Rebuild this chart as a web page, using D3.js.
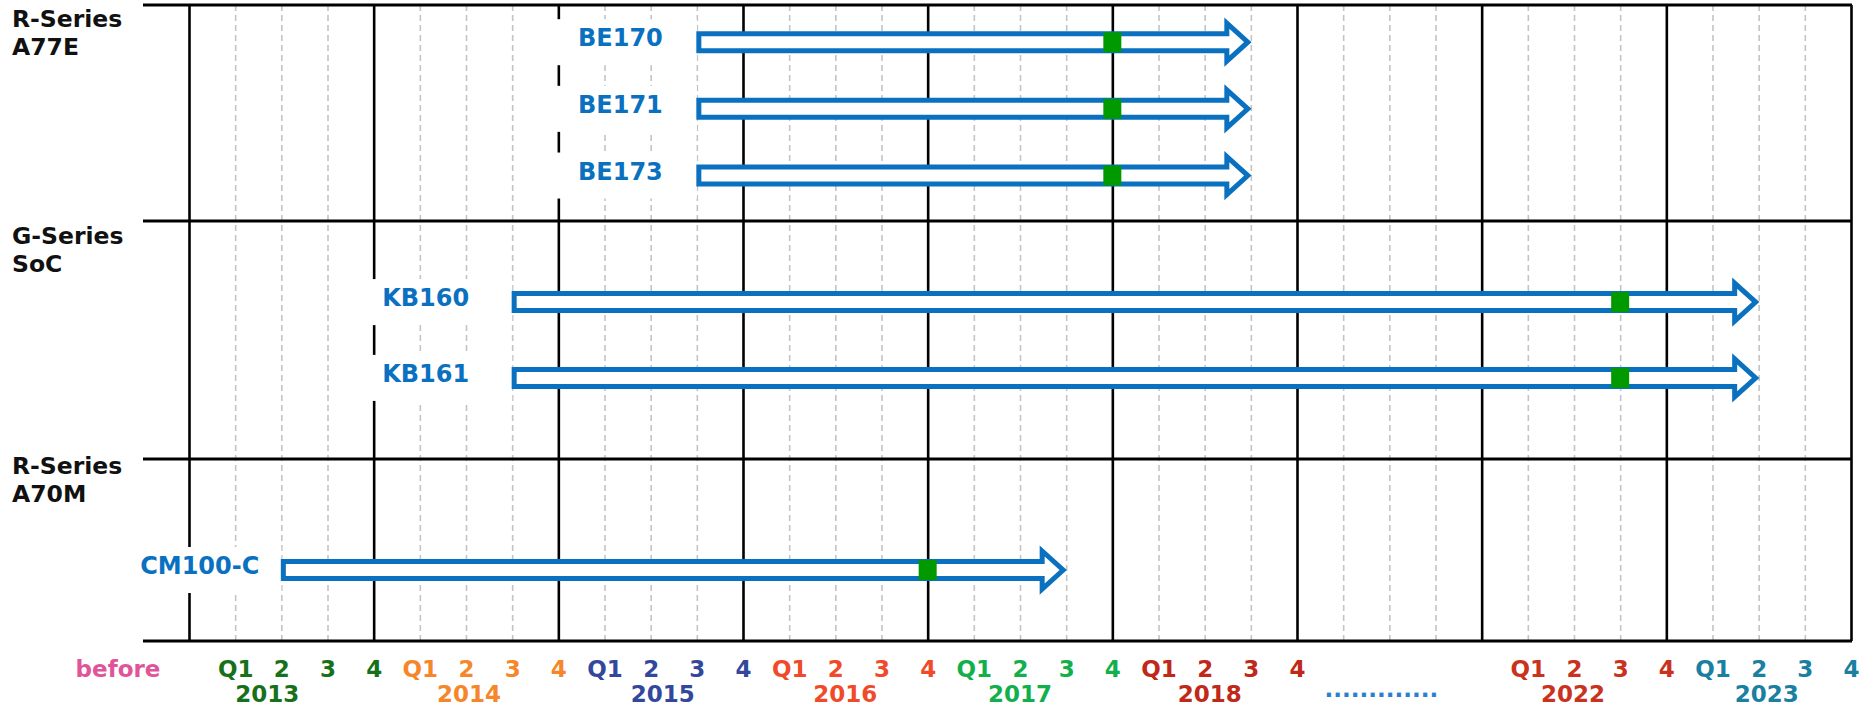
<!DOCTYPE html>
<html><head><meta charset="utf-8">
<script src="https://cdn.jsdelivr.net/npm/d3@7"></script>
<style>
body{margin:0;background:#fff;}
svg{display:block;font-family:"DejaVu Sans",sans-serif;font-weight:700;}
</style>
</head><body>
<svg id="chart" width="1861" height="708"></svg>
<script>
// ---------------- DATA ----------------
const columns = ["2013","2014","2015","2016","2017","2018","gap","2022","2023"];
const columnColors = ["#17701a","#f5872a","#33489c","#f04a2a","#12b04c","#c0281a","#2a7fd0","#c8321e","#1a7fa0"];
const quarterLabels = ["Q1","2","3","4"];
const beforeLabel = "before";
const gapLabel = ".............";
const groupNames = [["R-Series","A77E"],["G-Series","SoC"],["R-Series","A70M"]];
const products = ["BE170","BE171","BE173","KB160","KB161","CM100-C"];
const productGroup = [0,0,0,1,1,2];
const startYear = ["2015","2015","2015","2014","2014","2013"];
const startQuarter = [3,3,3,3,3,2];
const endYear = ["2018","2018","2018","2023","2023","2017"];
const endQuarter = [3,3,3,2,2,3];
const mileYear = ["2017","2017","2017","2022","2022","2016"];
const mileQuarter = [4,4,4,3,3,4];

// ---------------- LAYOUT / STYLE ----------------
const gridLeft = 189, gridRight = 1851, lineLeft = 143;
const sectionEdges = [5, 221, 459, 641];
const groupPadding = [0.62, 1.07, 1];
const groupAlign = [0.45, 0.5, 0.61];
const groupLabelBase = [27, 244, 474];
const labelGap = [34, 34, 34, 43, 43, 22];
const boxLeftPad = [40, 40, 40, 30, 30, 30];
const yearShift = [-14, 3, 12, 10, 0, 5, -8, -1, 8];
const blue = "#0a70c0";
const green = "#009a00";

const svg = d3.select("#chart");
const nQ = columns.length * 4;
const x = d3.scaleLinear().domain([0, nQ]).range([gridLeft, gridRight]);
const qIndex = (yr, q) => columns.indexOf(yr) * 4 + q;

const yGroup = groupNames.map((g, gi) => {
  const ids = products.filter((p, i) => productGroup[i] === gi);
  return d3.scalePoint().domain(ids)
    .range([sectionEdges[gi], sectionEdges[gi + 1]])
    .padding(groupPadding[gi]).align(groupAlign[gi]);
});
const yOf = i => yGroup[productGroup[i]](products[i]);

// ---------------- GRID ----------------
const gridH = sectionEdges[3] - sectionEdges[0];
const minorTicks = d3.range(0, nQ + 1).filter(i => i % 4 !== 0);
const majorTicks = d3.range(0, nQ + 1, 4);

const minorAxis = svg.append("g")
  .attr("transform", `translate(0,${sectionEdges[3]})`)
  .call(d3.axisBottom(x).tickValues(minorTicks).tickSize(-gridH).tickFormat(""));
minorAxis.select(".domain").remove();
minorAxis.selectAll("line").attr("stroke", "#c4c4c4").attr("stroke-width", 1.6).attr("stroke-dasharray", "6,4");

const majorAxis = svg.append("g")
  .attr("transform", `translate(0,${sectionEdges[3]})`)
  .call(d3.axisBottom(x).tickValues(majorTicks).tickSize(-gridH).tickFormat(""));
majorAxis.select(".domain").remove();
majorAxis.selectAll("line").attr("stroke", "#000").attr("stroke-width", 2.6);

svg.append("g").selectAll("line").data(sectionEdges).join("line")
  .attr("x1", lineLeft).attr("x2", gridRight + 1)
  .attr("y1", d => d).attr("y2", d => d)
  .attr("stroke", "#000").attr("stroke-width", 2.8);

// ---------------- GROUP LABELS ----------------
groupNames.forEach((lines, gi) => {
  const t = svg.append("text").attr("x", 12).attr("y", groupLabelBase[gi])
    .attr("font-size", 23.5).attr("fill", "#111");
  lines.forEach((l, li) => t.append("tspan").attr("x", 12).attr("dy", li ? 28 : 0).text(l));
});

// ---------------- PRODUCT LABELS (with white boxes) ----------------
const labG = svg.append("g");
products.forEach((p, i) => {
  const y = yOf(i);
  const x0 = x(qIndex(startYear[i], startQuarter[i]));
  const g = labG.append("g");
  const rect = g.append("rect").attr("fill", "#fff");
  const t = g.append("text").attr("x", x0 - labelGap[i]).attr("y", y + 4)
    .attr("text-anchor", "end").attr("font-size", 24).attr("fill", blue).text(p);
  const bb = t.node().getBBox();
  const left = bb.x - boxLeftPad[i];
  rect.attr("x", left).attr("width", x0 - left).attr("y", y - 23).attr("height", 46);
});

// ---------------- ARROWS ----------------
const h = 8.5, HH = 19, headLen = 21;
function arrowPath(x0, xt, y) {
  const p = d3.path();
  const xh = xt - headLen;
  p.moveTo(x0, y - h); p.lineTo(xh, y - h); p.lineTo(xh, y - HH); p.lineTo(xt, y);
  p.lineTo(xh, y + HH); p.lineTo(xh, y + h); p.lineTo(x0, y + h); p.closePath();
  return p.toString();
}
svg.append("g").selectAll("path").data(products).join("path")
  .attr("d", (d, i) => arrowPath(x(qIndex(startYear[i], startQuarter[i])) + 2,
                                 x(qIndex(endYear[i], endQuarter[i])) - 3, yOf(i)))
  .attr("fill", "#fff").attr("stroke", blue).attr("stroke-width", 5)
  .attr("stroke-linejoin", "miter");

svg.append("g").selectAll("rect").data(products).join("rect")
  .attr("x", (d, i) => x(qIndex(mileYear[i], mileQuarter[i])) - 9)
  .attr("y", (d, i) => yOf(i) - 10).attr("width", 18).attr("height", 20)
  .attr("fill", green);

// ---------------- BOTTOM LABELS ----------------
const labelTicks = [];
columns.forEach((c, ci) => {
  if (c === "gap") return;
  quarterLabels.forEach((q, qi) => labelTicks.push(ci * 4 + qi + 1));
});
const qAxis = svg.append("g").attr("transform", "translate(0,677)")
  .call(d3.axisBottom(x).tickValues(labelTicks).tickSize(0).tickPadding(0)
    .tickFormat(i => quarterLabels[(i - 1) % 4]));
qAxis.select(".domain").remove();
qAxis.attr("font-family", null).attr("font-size", null);
qAxis.selectAll("text").attr("dy", 0).attr("font-size", 23)
  .attr("fill", d => columnColors[Math.floor((d - 1) / 4)]);

svg.append("text").attr("x", 118).attr("y", 677).attr("text-anchor", "middle")
  .attr("font-size", 23).attr("fill", "#e0559a").text(beforeLabel);

svg.append("g").selectAll("text").data(columns).join("text")
  .attr("x", (d, i) => x(i * 4 + 2) + yearShift[i]).attr("y", d => d === "gap" ? 697 : 702)
  .attr("text-anchor", "middle").attr("font-size", 23)
  .attr("fill", (d, i) => columnColors[i])
  .text(d => d === "gap" ? gapLabel : d);
</script>
</body></html>
